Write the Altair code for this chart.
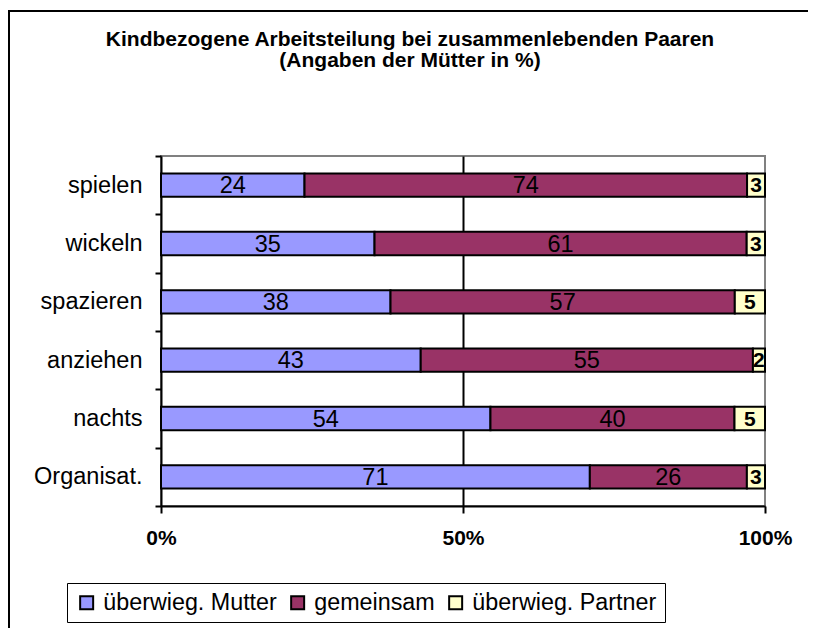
import altair as alt
import pandas as pd

categories = ["spielen", "wickeln", "spazieren", "anziehen", "nachts", "Organisat."]
series = ["überwieg. Mutter", "gemeinsam", "überwieg. Partner"]
mutter = [24, 35, 38, 43, 54, 71]
gemeinsam = [74, 61, 57, 55, 40, 26]
partner = [3, 3, 5, 2, 5, 3]
colors = ["#9999FF", "#993366", "#FFFFCC"]
x_ticks = [0, 0.5, 1]
title_lines = ["Kindbezogene Arbeitsteilung bei zusammenlebenden Paaren", "(Angaben der Mütter in %)"]

rows = []
for i, c in enumerate(categories):
    for j, (s, vals) in enumerate(zip(series, [mutter, gemeinsam, partner])):
        rows.append({"cat": c, "series": s, "value": vals[i], "order": j})
df = pd.DataFrame(rows)

FONT = "Liberation Sans"

y_axis = alt.Axis(title=None, tickBand="extent", labelFontSize=23.5, labelColor="black",
                  labelFont=FONT, labelPadding=13, tickSize=6, tickWidth=2, tickColor="black",
                  domainColor="black", domainWidth=2, grid=False)
y_scale = alt.Scale(paddingInner=0, paddingOuter=0)
x_axis = alt.Axis(title=None, values=x_ticks, format="%", labelFontSize=21, labelFontWeight="bold",
                  labelFont=FONT, labelColor="black", labelPadding=14, labelFlush=False,
                  tickSize=7, tickWidth=2, tickColor="black", domainColor="black", domainWidth=2,
                  grid=True,
                  gridColor=alt.condition("datum.value == 0.5", alt.value("black"), alt.value("transparent")),
                  gridWidth=2)
x_scale = alt.Scale(domain=[0, 1])

base = alt.Chart(df)

bars = base.mark_bar(stroke="black", strokeWidth=2, height=alt.RelativeBandSize(0.4)).encode(
    y=alt.Y("cat:N", sort=categories, scale=y_scale, axis=y_axis),
    x=alt.X("value:Q", stack="normalize", scale=x_scale, axis=x_axis),
    color=alt.Color("series:N", scale=alt.Scale(domain=series, range=colors),
                    legend=alt.Legend(title=None, orient="none", legendX=-94, legendY=427,
                                      direction="horizontal", symbolType="square", symbolSize=169,
                                      symbolStrokeColor="black", symbolStrokeWidth=2,
                                      labelFontSize=23.3, labelFont=FONT, labelColor="black",
                                      labelOffset=5, columnPadding=9, padding=8,
                                      strokeColor="black", labelLimit=400)),
    order=alt.Order("order:Q"),
)

text_base = (base
             .transform_joinaggregate(total="sum(value)", groupby=["cat"])
             .transform_window(cum="sum(value)", groupby=["cat"], sort=[alt.SortField("order")], frame=[None, 0])
             .transform_calculate(mid="(datum.cum - datum.value/2)/datum.total"))

labels_main = text_base.transform_filter("datum.order < 2").mark_text(
    fontSize=23.5, font=FONT, color="black", baseline="middle", dy=1
).encode(
    y=alt.Y("cat:N", sort=categories, scale=y_scale, axis=y_axis),
    x=alt.X("mid:Q", scale=x_scale, axis=x_axis),
    text="value:Q",
)

labels_partner = text_base.transform_filter("datum.order == 2").mark_text(
    fontSize=21, font=FONT, fontWeight="bold", color="black", baseline="middle", dy=1
).encode(
    y=alt.Y("cat:N", sort=categories, scale=y_scale, axis=y_axis),
    x=alt.X("mid:Q", scale=x_scale, axis=x_axis),
    text="value:Q",
)

frame = alt.Chart(pd.DataFrame({"k": [0]})).mark_rect(
    fillOpacity=0, stroke="black", strokeWidth=2
).encode(
    x=alt.value(-152), x2=alt.value(2000), y=alt.value(-145), y2=alt.value(2000)
)

chart = alt.layer(frame, bars, labels_main, labels_partner).properties(
    width=604, height=350,
    title=alt.TitleParams(text=title_lines, anchor="middle", dx=-53, offset=-61, fontSize=21,
                          fontWeight="bold", font=FONT, color="black", lineHeight=21),
    autosize=alt.AutoSizeParams(type="none"),
    padding={"left": 153, "top": 148, "right": 43, "bottom": 122},
    background="white",
).configure_view(stroke="#808080", strokeWidth=2)

chart.save("out.html", embed_options={"renderer": "svg", "actions": False})
